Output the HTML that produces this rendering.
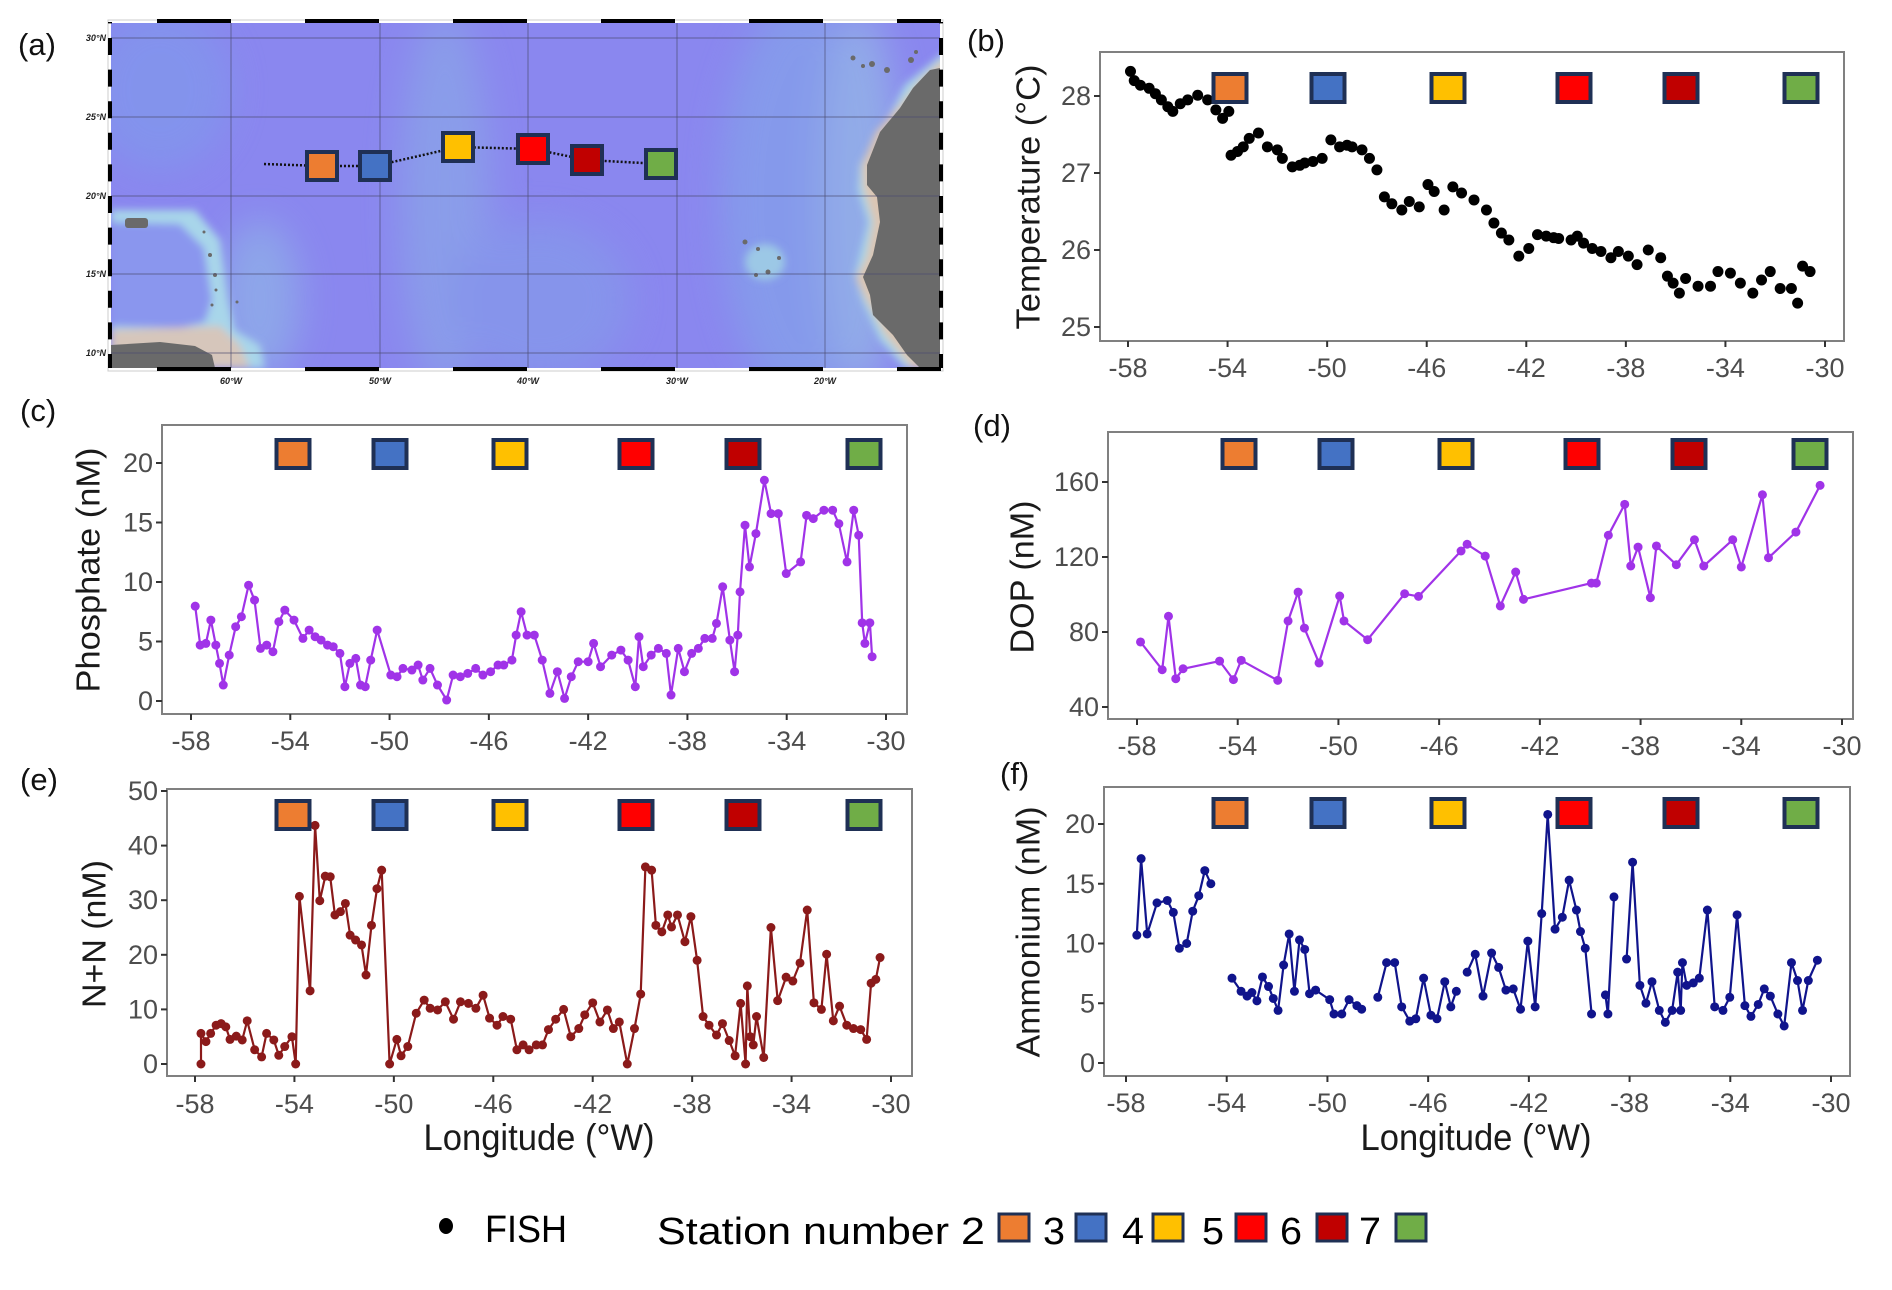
<!DOCTYPE html>
<html><head><meta charset="utf-8"><style>
html,body{margin:0;padding:0;background:#fff;}
svg{display:block;font-family:"Liberation Sans",sans-serif;}
</style></head><body>
<svg id="fig" width="1892" height="1290" viewBox="0 0 1892 1290" xmlns="http://www.w3.org/2000/svg">
<g id="map">
  <defs>
    <clipPath id="mapclip"><rect x="111" y="23" width="829" height="345"/></clipPath>
    <filter id="blur4" x="-20%" y="-20%" width="140%" height="140%"><feGaussianBlur stdDeviation="4"/></filter>
    <filter id="blur15" x="-50%" y="-50%" width="200%" height="200%"><feGaussianBlur stdDeviation="18"/></filter>
  </defs>
  <rect x="108" y="20" width="835" height="351" fill="#fff" stroke="#ccc" stroke-width="1"/>
  <g clip-path="url(#mapclip)">
    <rect x="111" y="23" width="829" height="345" fill="#8a87ef"/>
    <g filter="url(#blur15)" opacity="0.75">
      <ellipse cx="160" cy="90" rx="70" ry="80" fill="#8197ec"/>
      <ellipse cx="445" cy="200" rx="45" ry="190" fill="#8aa4e8"/>
      <ellipse cx="540" cy="300" rx="90" ry="80" fill="#8599ea"/>
      <ellipse cx="800" cy="200" rx="80" ry="200" fill="#84a0ea"/>
      <ellipse cx="860" cy="200" rx="40" ry="190" fill="#94b8e6"/>
      <ellipse cx="260" cy="300" rx="40" ry="80" fill="#8fb0e8"/>
    </g>
    <g filter="url(#blur4)">
      <path d="M111 210 L195 210 L220 240 L228 300 L235 330 L260 345 L265 368 L111 368 Z" fill="#a8d6ea"/>
      <path d="M111 222 L180 224 L204 248 L212 300 L205 322 L180 328 L111 326 Z" fill="#8a96ee"/>
      <path d="M111 330 L220 326 L240 345 L250 368 L111 368 Z" fill="#d6c6bb"/>
      <path d="M960 40 L935 60 L905 85 L885 125 L860 165 L858 190 L868 222 L855 275 L862 300 L880 340 L905 368 L960 368 Z" fill="#a8d8e8"/>
      <path d="M960 55 L940 62 L920 80 L900 105 L876 132 L862 165 L863 188 L873 222 L866 258 L856 278 L866 300 L885 335 L912 368 L960 368 Z" fill="#dcc6b4"/>
      <ellipse cx="765" cy="262" rx="20" ry="18" fill="#9cc8e6"/>
    </g>
    <path d="M111 345 L160 342 L195 346 L212 355 L215 368 L111 368 Z" fill="#6a6a6a"/>
    <rect x="125" y="218" width="23" height="10" rx="3" fill="#6a6a6a"/>
    <path d="M940 68 L930 70 L913 88 L900 108 L880 132 L867 165 L867 185 L877 197 L880 222 L873 255 L863 277 L870 295 L873 315 L893 335 L907 355 L920 368 L940 368 Z" fill="#6a6a6a"/>
    <g fill="#6a6a6a">
      <circle cx="853" cy="58" r="2.5"/><circle cx="863" cy="66" r="2"/><circle cx="872" cy="64" r="3"/><circle cx="887" cy="70" r="3"/><circle cx="911" cy="60" r="3"/><circle cx="916" cy="52" r="2"/>
      <circle cx="745" cy="242" r="2.5"/><circle cx="758" cy="249" r="2"/><circle cx="756" cy="275" r="2"/><circle cx="768" cy="272" r="2.5"/><circle cx="779" cy="258" r="2"/>
      <circle cx="204" cy="232" r="1.5"/><circle cx="210" cy="255" r="2"/><circle cx="215" cy="275" r="2"/><circle cx="216" cy="290" r="1.5"/><circle cx="212" cy="305" r="1.5"/><circle cx="237" cy="302" r="1.5"/>
    </g>
    <g stroke="#4a4a70" stroke-opacity="0.55" stroke-width="1.2">
      <line x1="231" y1="23" x2="231" y2="368"/><line x1="380" y1="23" x2="380" y2="368"/><line x1="528" y1="23" x2="528" y2="368"/><line x1="677" y1="23" x2="677" y2="368"/><line x1="825" y1="23" x2="825" y2="368"/>
      <line x1="111" y1="38" x2="940" y2="38"/><line x1="111" y1="117" x2="940" y2="117"/><line x1="111" y1="196" x2="940" y2="196"/><line x1="111" y1="274" x2="940" y2="274"/><line x1="111" y1="353" x2="940" y2="353"/>
    </g>
  </g>
  <g stroke="#000" stroke-width="4">
    <line x1="111" y1="21" x2="941" y2="21" stroke-dasharray="74 74" stroke-dashoffset="102"/>
    <line x1="111" y1="369" x2="941" y2="369" stroke-dasharray="74 74" stroke-dashoffset="102"/>
    <line x1="110" y1="22" x2="110" y2="368" stroke-dasharray="17 14.6" stroke-dashoffset="-16"/>
    <line x1="941" y1="22" x2="941" y2="368" stroke-dasharray="17 14.6" stroke-dashoffset="-16"/>
  </g>
  <g font-size="9" font-weight="bold" font-style="italic" fill="#222" text-anchor="end">
    <text x="106" y="41">30°N</text><text x="106" y="120">25°N</text><text x="106" y="199">20°N</text><text x="106" y="277">15°N</text><text x="106" y="356">10°N</text>
  </g>
  <g font-size="9" font-weight="bold" font-style="italic" fill="#222" text-anchor="middle">
    <text x="231" y="384">60°W</text><text x="380" y="384">50°W</text><text x="528" y="384">40°W</text><text x="677" y="384">30°W</text><text x="825" y="384">20°W</text>
  </g>
  <polyline points="264,164 322,166 375,166 458,147 533,149 587,160 661,164" fill="none" stroke="#111" stroke-width="2.5" stroke-dasharray="2 2"/>
  <g stroke="#1f3055" stroke-width="4">
    <rect x="307" y="152" width="30" height="28" fill="#ED7D31"/>
    <rect x="360" y="152" width="30" height="28" fill="#4472C4"/>
    <rect x="443" y="133" width="30" height="28" fill="#FFC000"/>
    <rect x="518" y="135" width="30" height="28" fill="#FF0000"/>
    <rect x="572" y="146" width="30" height="28" fill="#C00000"/>
    <rect x="646" y="150" width="30" height="28" fill="#70AD47"/>
  </g>
</g>
<g font-size="31" fill="#111">
  <text x="18" y="55">(a)</text>
  <text x="967" y="51">(b)</text>
  <text x="20" y="421">(c)</text>
  <text x="973" y="436">(d)</text>
  <text x="20" y="790">(e)</text>
  <text x="1000" y="784">(f)</text>
</g>
<g id="charts"></g>
<g>
  <ellipse cx="446" cy="1226" rx="7" ry="8" fill="#000"/>
  <text x="485" y="1242" font-size="38" textLength="82" lengthAdjust="spacingAndGlyphs">FISH</text>
  <text x="657" y="1244" font-size="38" textLength="328" lengthAdjust="spacingAndGlyphs">Station number 2</text>
  <g stroke="#1f3055" stroke-width="3">
    <rect x="999" y="1214" width="30" height="27" fill="#ED7D31"/>
    <rect x="1076" y="1214" width="30" height="27" fill="#4472C4"/>
    <rect x="1153" y="1214" width="30" height="27" fill="#FFC000"/>
    <rect x="1236" y="1214" width="30" height="27" fill="#FF0000"/>
    <rect x="1317" y="1214" width="30" height="27" fill="#C00000"/>
    <rect x="1396" y="1214" width="30" height="27" fill="#70AD47"/>
  </g>
  <g font-size="38">
    <text x="1043" y="1244" textLength="22" lengthAdjust="spacingAndGlyphs">3</text>
    <text x="1122" y="1244" textLength="22" lengthAdjust="spacingAndGlyphs">4</text>
    <text x="1202" y="1244" textLength="22" lengthAdjust="spacingAndGlyphs">5</text>
    <text x="1280" y="1244" textLength="22" lengthAdjust="spacingAndGlyphs">6</text>
    <text x="1359" y="1244" textLength="22" lengthAdjust="spacingAndGlyphs">7</text>
  </g>
</g>
</svg>
<script>
const xTicks = [-58,-54,-50,-46,-42,-38,-34,-30];
const stationColors = ["#ED7D31","#4472C4","#FFC000","#FF0000","#C00000","#70AD47"];
const stationLon = [-54.0,-50.1,-45.3,-40.2,-36.0,-31.1];

const tempLon = [-57.9,-57.75,-57.5,-57.15,-56.9,-56.66,-56.4,-56.2,-55.9,-55.6,-55.2,-54.8,-54.47,-54.2,-53.95,-53.86,-53.6,-53.37,-53.13,-52.76,-52.4,-52.0,-51.8,-51.4,-51.1,-50.9,-50.57,-50.2,-49.85,-49.5,-49.2,-49.0,-48.6,-48.3,-48.0,-47.7,-47.4,-47.0,-46.7,-46.3,-45.95,-45.7,-45.3,-44.95,-44.6,-44.1,-43.6,-43.3,-43.0,-42.7,-42.3,-41.9,-41.55,-41.2,-40.9,-40.7,-40.2,-39.95,-39.7,-39.35,-39.0,-38.6,-38.3,-37.9,-37.55,-37.1,-36.6,-36.33,-36.1,-35.85,-35.6,-35.1,-34.6,-34.3,-33.8,-33.4,-32.9,-32.55,-32.2,-31.8,-31.35,-31.1,-30.9,-30.6];
const tempVal = [28.32,28.2,28.14,28.1,28.03,27.95,27.86,27.8,27.9,27.95,28.01,27.95,27.82,27.71,27.8,27.23,27.28,27.34,27.45,27.52,27.34,27.3,27.19,27.08,27.1,27.13,27.15,27.19,27.43,27.34,27.36,27.34,27.3,27.19,27.04,26.69,26.6,26.52,26.63,26.56,26.85,26.76,26.52,26.82,26.74,26.65,26.52,26.35,26.22,26.13,25.92,26.02,26.2,26.18,26.16,26.15,26.13,26.18,26.09,26.02,25.98,25.9,25.98,25.92,25.81,26.0,25.9,25.66,25.57,25.44,25.63,25.53,25.53,25.72,25.7,25.57,25.44,25.61,25.72,25.5,25.5,25.31,25.79,25.72];

const phosLon = [-57.83,-57.63,-57.4,-57.2,-57.0,-56.85,-56.7,-56.46,-56.2,-55.97,-55.68,-55.44,-55.2,-54.95,-54.7,-54.46,-54.22,-53.85,-53.49,-53.24,-53.0,-52.76,-52.5,-52.27,-52.0,-51.8,-51.6,-51.36,-51.17,-50.98,-50.76,-50.5,-49.95,-49.7,-49.46,-49.1,-48.85,-48.66,-48.37,-48.07,-47.7,-47.44,-47.15,-46.85,-46.53,-46.24,-45.93,-45.63,-45.4,-45.07,-44.9,-44.7,-44.46,-44.17,-43.85,-43.54,-43.24,-42.95,-42.68,-42.4,-42.0,-41.78,-41.5,-41.05,-40.68,-40.39,-40.1,-39.95,-39.78,-39.46,-39.17,-38.85,-38.66,-38.37,-38.12,-37.83,-37.56,-37.3,-37.0,-36.83,-36.58,-36.29,-36.1,-35.97,-35.88,-35.68,-35.5,-35.24,-34.9,-34.63,-34.34,-34.02,-33.44,-33.2,-32.93,-32.5,-32.15,-31.9,-31.57,-31.3,-31.1,-30.96,-30.85,-30.65,-30.56];
const phosVal = [7.97,4.7,4.84,6.8,4.7,3.16,1.34,3.86,6.24,7.08,9.73,8.48,4.42,4.7,4.14,6.66,7.64,6.8,5.26,5.96,5.4,5.12,4.7,4.56,4.0,1.2,3.16,3.58,1.34,1.2,3.44,5.96,2.18,2.04,2.74,2.6,3.02,1.76,2.74,1.34,0.08,2.18,2.04,2.32,2.74,2.18,2.46,3.02,3.02,3.44,5.54,7.5,5.54,5.54,3.44,0.64,2.46,0.22,2.04,3.3,3.3,4.84,2.88,3.86,4.28,3.44,1.2,5.4,2.88,3.86,4.42,4.0,0.5,4.42,2.46,4.0,4.42,5.26,5.26,6.52,9.6,5.12,2.46,5.54,9.17,14.77,11.27,14.07,18.55,15.75,15.75,10.71,11.69,15.6,15.33,16.03,16.03,14.9,11.69,16.03,13.93,6.57,4.84,6.57,3.72];

const dopLon = [-57.86,-57.0,-56.75,-56.46,-56.17,-54.72,-54.17,-53.86,-52.41,-52.0,-51.6,-51.35,-50.77,-49.95,-49.78,-48.84,-47.37,-46.82,-45.13,-44.89,-44.17,-43.57,-42.96,-42.65,-39.95,-39.76,-39.28,-38.63,-38.39,-38.1,-37.61,-37.37,-36.58,-35.86,-35.49,-34.34,-34.0,-33.16,-32.92,-31.83,-30.87];
const dopVal = [74.7,59.9,88.4,55.1,60.4,64.5,54.6,64.9,54.2,85.9,101.3,82.1,63.5,99.2,85.9,75.9,100.4,99.0,123.2,126.8,120.5,93.9,112.0,97.4,106.1,106.1,131.6,148.1,115.2,125.3,98.3,125.9,115.9,129.2,115.2,129.2,114.7,153.2,119.6,133.3,158.2];

const nnLon = [-57.76,-57.76,-57.56,-57.37,-57.15,-56.95,-56.76,-56.59,-56.34,-56.1,-55.9,-55.6,-55.32,-55.12,-54.83,-54.63,-54.39,-54.1,-53.95,-53.8,-53.37,-53.17,-52.98,-52.76,-52.56,-52.37,-52.15,-51.95,-51.76,-51.54,-51.3,-51.12,-50.9,-50.68,-50.49,-50.17,-49.88,-49.71,-49.44,-49.1,-48.78,-48.54,-48.24,-47.93,-47.6,-47.32,-47.0,-46.7,-46.41,-46.15,-45.85,-45.61,-45.3,-45.05,-44.8,-44.56,-44.27,-44.02,-43.78,-43.49,-43.17,-42.88,-42.56,-42.32,-42.0,-41.71,-41.41,-41.17,-40.93,-40.61,-40.32,-40.07,-39.88,-39.63,-39.46,-39.22,-38.98,-38.83,-38.59,-38.29,-38.05,-37.8,-37.56,-37.32,-37.02,-36.78,-36.51,-36.27,-36.05,-35.85,-35.78,-35.66,-35.54,-35.41,-35.12,-34.83,-34.56,-34.22,-33.95,-33.66,-33.37,-33.1,-32.8,-32.59,-32.32,-32.07,-31.78,-31.51,-31.22,-30.98,-30.8,-30.61,-30.44];
const nnVal = [0,5.6,4.1,5.6,7.1,7.4,6.8,4.5,5.1,4.4,7.9,2.6,1.3,5.6,4.4,1.6,3.2,5.0,0,30.7,13.4,43.7,29.9,34.4,34.3,27.3,27.9,29.4,23.6,22.7,21.8,16.3,25.4,32.1,35.5,0,4.5,1.5,3.2,9.3,11.7,10.2,9.9,11.4,8.2,11.4,11.1,10.2,12.6,8.4,7.1,8.7,8.2,2.6,3.5,2.6,3.5,3.5,6.3,8.2,10.0,5.0,6.5,9.0,11.2,7.7,9.9,6.5,7.7,0,6.5,12.8,36.1,35.5,25.4,24.2,27.3,25.1,27.3,22.4,27.0,19.0,8.7,7.1,5.3,7.4,4.3,1.5,11.1,0,14.3,5.0,3.5,8.7,1.2,25.0,11.6,15.9,15.2,18.5,28.2,11.2,10.0,20.1,7.9,10.6,7.1,6.5,6.3,4.5,14.8,15.5,19.5];

const ammLon = [-57.57,-57.4,-57.16,-56.77,-56.36,-56.12,-55.88,-55.59,-55.35,-55.11,-54.87,-54.63,null,-53.79,-53.43,-53.19,-53.0,-52.8,-52.58,-52.34,-52.15,-51.96,-51.74,-51.52,-51.31,-51.11,-50.9,-50.71,-50.47,-49.91,-49.74,-49.43,-49.14,-48.83,-48.64,null,-48.0,-47.65,-47.33,-47.05,-46.73,-46.49,-46.18,-45.89,-45.65,-45.34,-45.1,-44.88,null,-44.45,-44.13,-43.82,-43.48,-43.2,-42.91,-42.62,-42.33,-42.04,-41.75,-41.49,-41.25,-40.96,-40.67,-40.4,-40.11,-39.95,-39.76,-39.51,null,-38.96,-38.86,-38.62,null,-38.12,-37.88,-37.59,-37.35,-37.11,-36.82,-36.58,-36.31,-36.09,-35.97,-35.9,-35.73,-35.47,-35.23,-34.91,-34.62,-34.29,-34.02,-33.73,-33.42,-33.18,-32.89,-32.65,-32.41,-32.11,-31.86,-31.57,-31.33,-31.13,-30.9,-30.54];
const ammVal = [10.7,17.1,10.8,13.4,13.6,12.6,9.6,10.0,12.7,14.0,16.1,15.0,null,7.1,6.0,5.6,5.9,5.2,7.2,6.4,5.4,4.4,8.2,10.8,6.0,10.3,9.5,5.8,6.1,5.3,4.1,4.1,5.3,4.8,4.5,null,5.5,8.4,8.4,4.7,3.5,3.7,7.1,4.0,3.7,6.8,4.7,6.0,null,7.6,9.1,5.6,9.2,8.0,6.1,6.2,4.5,10.2,4.7,12.5,20.8,11.2,12.2,15.3,12.8,11.0,9.6,4.1,null,5.7,4.1,13.9,null,8.7,16.8,6.5,5.0,6.8,4.4,3.4,4.4,7.6,4.4,8.4,6.5,6.7,7.1,12.8,4.7,4.4,5.5,12.4,4.8,3.9,4.9,6.2,5.6,4.1,3.1,8.4,6.9,4.4,6.9,8.6];

const tempTicks = [25,26,27,28];
const phosTicks = [0,5,10,15,20];
const dopTicks = [40,80,120,160];
const nnTicks = [0,10,20,30,40,50];
const ammTicks = [0,5,10,15,20];

const NS = "http://www.w3.org/2000/svg";
const root = document.getElementById('charts');
function mk(tag, attrs, parent){const e=document.createElementNS(NS,tag);for(const k in attrs)e.setAttribute(k,attrs[k]);(parent||root).appendChild(e);return e;}

function panel(cfg){
  const g = mk('g',{});
  
  
  const xs = v => cfg.px0 + (v - (-58)) * (cfg.px1 - cfg.px0) / 28;
  const ys = v => cfg.py0 + (v - cfg.v0) * (cfg.py1 - cfg.py0) / (cfg.v1 - cfg.v0);
  const box = mk('rect',{x:cfg.bx0,y:cfg.by0,width:cfg.bx1-cfg.bx0,height:cfg.by1-cfg.by0,fill:'#fff',stroke:'#808080','stroke-width':2},g);
  
  
  xTicks.forEach(t=>{
    const x=xs(t);
    const tk=mk('line',{x1:x,y1:cfg.by1,x2:x,y2:cfg.by1+6,stroke:'#333','stroke-width':2},g);
    
    
    const tl=mk('text',{x:x,y:cfg.xly,'text-anchor':'middle','font-size':27,fill:'#4d4d4d'},g);
    
    
    tl.textContent=String(t);
  });
  cfg.yticks.forEach(t=>{
    const y=ys(t);
    const tk=mk('line',{x1:cfg.bx0-6,y1:y,x2:cfg.bx0,y2:y,stroke:'#333','stroke-width':2},g);
    
    
    const tl=mk('text',{x:cfg.bx0-9,y:y+9,'text-anchor':'end','font-size':27,fill:'#4d4d4d'},g);
    
    
    tl.textContent=String(t);
  });
  const yt=mk('text',{x:0,y:0,'text-anchor':'middle','font-size':33,fill:'#1a1a1a',textLength:cfg.tlen,lengthAdjust:'spacingAndGlyphs',transform:`translate(${cfg.tx},${cfg.ty}) rotate(-90)`,'dominant-baseline':'central'},g);
  
  
  yt.textContent=cfg.title;
  if(cfg.xtitle){
    const xt=mk('text',{x:cfg.xtx,y:1150,'text-anchor':'middle','font-size':37,fill:'#1a1a1a',textLength:231,lengthAdjust:'spacingAndGlyphs'},g);
    
    
    xt.textContent='Longitude (°W)';
  }
  if(cfg.line){
    let d='', pen=false;
    cfg.lon.forEach((lo,i)=>{
      const v=cfg.val[i];
      if(lo===null||v===null){pen=false;return;}
      d += (pen?'L':'M') + xs(lo).toFixed(1)+' '+ys(v).toFixed(1)+' ';
      pen=true;
    });
    const p=mk('path',{d:d,fill:'none',stroke:cfg.color,'stroke-width':2.2,'stroke-linejoin':'round'},g);
    
    
  }
  cfg.lon.forEach((lo,i)=>{
    const v=cfg.val[i];
    if(lo===null||v===null)return;
    const c=mk('ellipse',{cx:xs(lo),cy:ys(v),rx:cfg.r,ry:cfg.r,fill:cfg.color},g);
    
    
  });
  stationLon.forEach((lo,i)=>{
    const r=mk('rect',{x:cfg.sx[i]-16.5,y:cfg.sy-14,width:33,height:28,fill:stationColors[i],stroke:'#1f3055','stroke-width':4},g);
    
    
  });
}
const sxL=[293,390,510,636,743,864];
const sxR=[1230,1328,1448,1574,1681,1801];
panel({name:'temperature-panel-b',bx0:1100,bx1:1844,by0:52,by1:341,px0:1128,px1:1825,v0:25,v1:28,py0:327,py1:96,yticks:tempTicks,xly:377,title:'Temperature (°C)',tx:1028,ty:197,tlen:265,lon:tempLon,val:tempVal,color:'#000',r:5.5,line:false,sx:sxR,sy:88});
panel({name:'phosphate-panel-c',bx0:162,bx1:907,by0:425,by1:714,px0:191,px1:886,v0:0,v1:20,py0:701,py1:463,yticks:phosTicks,xly:750,title:'Phosphate (nM)',tx:88,ty:570,tlen:245,lon:phosLon,val:phosVal,color:'#a033e8',r:4.5,line:true,sx:sxL,sy:454});
panel({name:'dop-panel-d',bx0:1108,bx1:1853,by0:432,by1:719,px0:1137,px1:1842,v0:40,v1:160,py0:707,py1:482,yticks:dopTicks,xly:755,title:'DOP (nM)',tx:1022,ty:577,tlen:153,lon:dopLon,val:dopVal,color:'#a033e8',r:4.5,line:true,sx:[1239,1336,1456,1582,1689,1810],sy:454});
panel({name:'nitrate-nitrite-panel-e',bx0:167,bx1:912,by0:789,by1:1076,px0:195,px1:891,v0:0,v1:50,py0:1064,py1:791,yticks:nnTicks,xly:1113,title:'N+N (nM)',tx:94,ty:934,tlen:148,lon:nnLon,val:nnVal,color:'#8b1a1a',r:4.5,line:true,sx:sxL,sy:815,xtitle:true,xtx:539});
panel({name:'ammonium-panel-f',bx0:1104,bx1:1850,by0:787,by1:1076,px0:1126,px1:1831,v0:0,v1:20,py0:1063,py1:824,yticks:ammTicks,xly:1112,title:'Ammonium (nM)',tx:1028,ty:932,tlen:251,lon:ammLon,val:ammVal,color:'#10148c',r:4.5,line:true,sx:sxR,sy:813,xtitle:true,xtx:1476});
</script>
</body></html>
